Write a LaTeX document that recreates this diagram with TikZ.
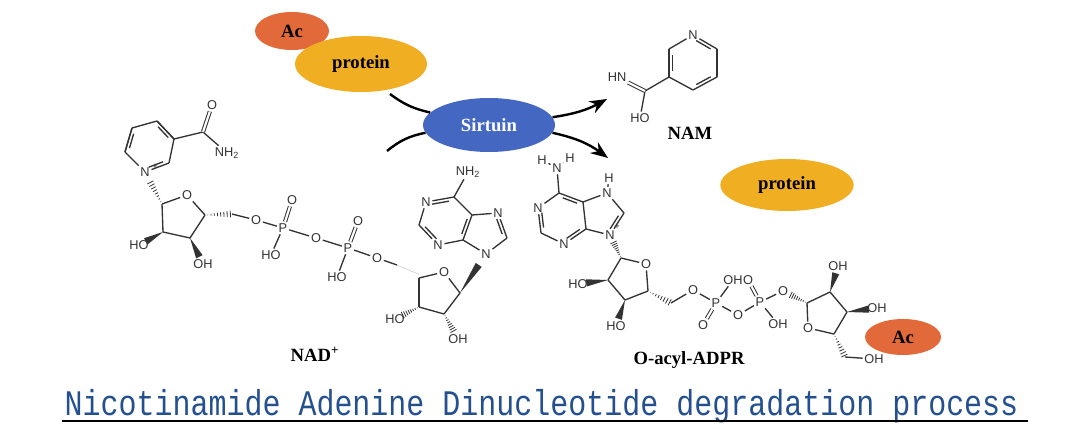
\documentclass[tikz,border=0pt]{standalone}
\usepackage{fontspec}
\usepackage{xcolor}
\setmainfont{Liberation Serif}
\newfontfamily\atomfont{Liberation Sans}
\newfontfamily\titlefont[FakeStretch=0.833]{Liberation Mono}
\usetikzlibrary{arrows.meta,calc,shapes.geometric}

\definecolor{acorange}{HTML}{E2693A}
\definecolor{protyellow}{HTML}{F0AE22}
\definecolor{sirtblue}{HTML}{4468C2}
\definecolor{titleblue}{HTML}{24508F}
\definecolor{bondgray}{HTML}{333333}

\tikzset{
  bondline/.style={bondgray, line width=1pt},
  dbl/.style={bondgray, double, double distance=1.6pt, line width=0.75pt},
  atom/.style={font=\atomfont\fontsize{9.6}{9.6}\selectfont, text=bondgray, inner sep=1.2pt},
  blob/.style={ellipse, inner sep=0pt, font=\bfseries\fontsize{14}{14}\selectfont},
  caption/.style={font=\bfseries\fontsize{14}{14}\selectfont},
  flow/.style={line width=1.8pt, -{Stealth[length=13pt,width=10pt]}},
  feed/.style={line width=1.8pt}
}

\newcommand{\ringbond}[3]{
  \draw[bondline] (#1) -- (#2);
  \draw[bondline] ($(#1)!.2!(#2)!2.4pt!#3:(#2)$) -- ($(#2)!.2!(#1)!2.4pt!-#3:(#1)$);
}
\newcommand{\wedgebond}[3][.72]{
  \fill[bondgray] (#2) -- ($(#2)!#1!(#3)!2.7pt!90:(#3)$) -- ($(#2)!#1!(#3)!2.7pt!-90:(#3)$) -- cycle;
}
\newcommand{\hashbond}[3][.72]{
  \foreach \t in {0.1,0.22,...,1}{
    \pgfmathsetmacro\w{\t*2.7}
    \pgfmathsetmacro\f{\t*#1}
    \draw[bondgray, line width=0.6pt] ($(#2)!\f!(#3)!\w pt!90:(#3)$) -- ($(#2)!\f!(#3)!\w pt!-90:(#3)$);
  }
}

\begin{document}
\begin{tikzpicture}[x=0.75pt, y=-0.75pt]
  \useasboundingbox (0,0) rectangle (1069,428);

  % carbons with no label
  \foreach \name/\x/\y in {
    nc2/169/163, nc3/174/139, nc4/157/121, nc5/132/128, nc6/125/152, nca/203/132,
    ra1/162/204, ra2/163/232, ra3/190/238, ra4/205/215, cha/232/214,
    chb/397/265, rb1/460/293, rb2/444/314, rb3/419/307, rb4/419/278,
    ac2/419/225, ac4/463/240, ac5/472/215, ac6/454/197, ac8/507/238,
    dc2/541/233, dc4/586/229, dc5/583/202, dc6/559/193, dc8/624/213,
    rc1/621/258, rc2/608/280, rc3/625/300, rc4/648/291, chc/671/303,
    rd1/807/303, rd2/830/292, rd3/847/312, rd4/834/334, chd/845/357,
    mc2/717/49, mc3/717/77, mc4/693/90, mc5/669/77, mc6/669/49, mca/645/91}
    \coordinate (\name) at (\x,\y);

  % atoms, NAD+ on the left
  \foreach \name/\x/\y/\txt in {
    nn/145/172/N, noa/212/105/O, nnh/227/153/NH\textsubscript{2},
    oa/187/195/O, hoa/139/245/HO, hob/203/264/OH, ob/256/220/O,
    pa/283/228/P, oc/292/200/O, hoc/271/255/HO, od/316/238/O,
    pb/348/248/P, oe/358/221/O, hod/337/277/HO, of/377/258/O,
    og/444/272/O, hoe/395/319/HO, hof/458/339/OH,
    an9/486/254/N, an7/498/213/N, an1/426/202/N, an3/438/245/N, anh/468/172/NH\textsubscript{2}}
    \node[atom] (\name) at (\x,\y) {\txt};

  % atoms, O-acyl-ADPR and NAM
  \foreach \name/\x/\y/\txt in {
    dnh/557/168/N, dha/542/160/H, dhb/570/158/H, dn1/538/208/N, dn3/564/244/N,
    dn7/607/193/N, dh7/609/178/H, dn9/610/235/N,
    oh/646/264/O, hog/578/284/HO, hoh/616/326/HO, oi/693/290/O,
    pc/716/303/P, oj/703/325/O, hoi/733/280/OH, ok/738/315/O,
    pd/760/302/P, ol/748/280/O, hoj/778/324/OH, om/783/291/O,
    on/808/328/O, hok/838/266/OH, hol/877/308/OH, hom/874/359/OH,
    mn/693/35/N, mnh/617/77/HN, mho/640/118/HO}
    \node[atom] (\name) at (\x,\y) {\txt};
  \node[atom, font=\atomfont\fontsize{7}{7}\selectfont] (plusa) at (155,167) {+};
  \node[atom, font=\atomfont\fontsize{7}{7}\selectfont] (plusb) at (617,227) {+};

  % single bonds
  \foreach \a/\b in {
    nc2/nc3, nc3/nc4, nc4/nc5, nc5/nc6, nc6/nn, nc3/nca, nca/nnh,
    ra1/oa, oa/ra4, ra4/ra3, ra3/ra2, ra2/ra1,
    cha/ob, ob/pa, pa/hoc, pa/od, od/pb, pb/hod, pb/of, of/chb,
    rb4/og, og/rb1, rb1/rb2, rb2/rb3, rb3/rb4,
    ac6/anh, an1/ac2, an3/ac4, ac5/ac6, ac5/an7, ac8/an9, an9/ac4,
    dnh/dha, dnh/dhb, dnh/dc6, dc6/dn1, dc2/dn3, dc4/dc5, dc5/dn7, dn7/dh7,
    dn7/dc8, dn9/dc4,
    rc1/oh, oh/rc4, rc4/rc3, rc3/rc2, rc2/rc1,
    chc/oi, oi/pc, pc/hoi, pc/ok, ok/pd, pd/hoj, pd/om,
    rd1/rd2, rd2/rd3, rd3/rd4, rd4/on, on/rd1, chd/hom,
    mc2/mc3, mc4/mc5, mc6/mn, mc5/mca, mca/mho}
    \draw[bondline] (\a) -- (\b);

  % double bonds
  \foreach \a/\b in {nca/noa, pa/oc, pb/oe, pc/oj, pd/ol, mca/mnh}
    \draw[dbl] (\a) -- (\b);
  \ringbond{nn}{nc2}{90}
  \ringbond{nc3}{nc4}{90}
  \ringbond{nc5}{nc6}{90}
  \ringbond{ac6}{an1}{90}
  \ringbond{ac2}{an3}{90}
  \ringbond{ac4}{ac5}{90}
  \ringbond{an7}{ac8}{-90}
  \ringbond{dc5}{dc6}{90}
  \ringbond{dn1}{dc2}{90}
  \ringbond{dn3}{dc4}{90}
  \ringbond{dc8}{dn9}{-90}
  \ringbond{mn}{mc2}{-90}
  \ringbond{mc3}{mc4}{-90}
  \ringbond{mc5}{mc6}{-90}

  % stereo bonds
  \hashbond{ra1}{nn}
  \hashbond[1]{ra4}{cha}
  \wedgebond{ra2}{hoa}
  \wedgebond{ra3}{hob}
  \wedgebond[1]{chb}{rb4}
  \wedgebond{rb1}{an9}
  \hashbond{rb2}{hof}
  \hashbond{rb3}{hoe}
  \hashbond{rc1}{dn9}
  \wedgebond{rc2}{hog}
  \wedgebond{rc3}{hoh}
  \hashbond[1]{rc4}{chc}
  \hashbond{rd1}{om}
  \wedgebond{rd2}{hok}
  \wedgebond{rd3}{hol}
  \hashbond[1]{rd4}{chd}

  % blobs
  \node[blob, fill=acorange, minimum width=55.5pt, minimum height=28.5pt] (acetyl) at (292,31) {Ac};
  \node[blob, fill=protyellow, minimum width=99pt, minimum height=42pt] (protein) at (361,64) {protein};
  \node[blob, fill=sirtblue, text=white, minimum width=99pt, minimum height=40.5pt] (sirtuin) at (489,125) {Sirtuin};
  \node[blob, fill=protyellow, minimum width=100pt, minimum height=39pt] (freeprot) at (787,185) {protein};
  \node[blob, fill=acorange, minimum width=57pt, minimum height=27pt] (acetylb) at (903,337) {Ac};

  % arrows
  \coordinate (intop) at (390,94);
  \coordinate (inbot) at (387,151);
  \coordinate (outtop) at (607,99);
  \coordinate (outbot) at (608,158);
  \draw[feed] (intop) to[bend right=12] (sirtuin.168);
  \draw[feed] (inbot) to[bend left=14] (sirtuin.187);
  \draw[flow] (sirtuin.7) to[bend right=10] (outtop);
  \draw[flow] (sirtuin.353) to[bend left=12] (outbot);

  % labels
  \node[caption] (nadlabel) at (315,354) {NAD\textsuperscript{+}};
  \node[caption] (namlabel) at (690,133) {NAM};
  \node[caption] (adprlabel) at (689,360) {O-acyl-ADPR};
  \node[text=titleblue, font=\titlefont\fontsize{27}{27}\selectfont, inner sep=0pt] (title) at (541.5,406)
    {Nicotinamide Adenine Dinucleotide degradation process};
  \coordinate (ruleleft) at (62,421);
  \coordinate (ruleright) at (1028,421);
  \draw[black, line width=0.8pt] (ruleleft) -- (ruleright);
\end{tikzpicture}
\end{document}
